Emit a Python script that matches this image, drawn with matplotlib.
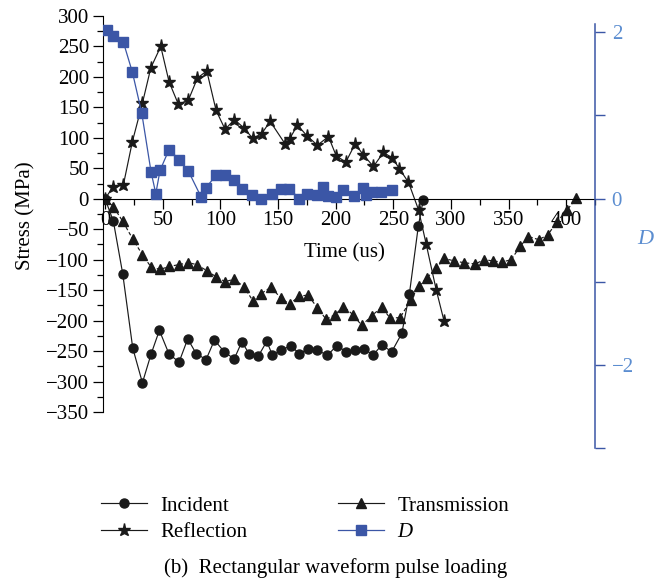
import matplotlib
matplotlib.use("Agg")
import matplotlib.pyplot as plt
from matplotlib.ticker import MultipleLocator, FixedLocator

plt.rcParams["font.family"] = ["Liberation Serif", "DejaVu Serif"]
plt.rcParams["font.size"] = 15

# --------------------------------------------------
# Data (time in us)
# --------------------------------------------------
inc_t = [0, 7.2, 15.3, 24, 32.4, 39.9, 47.1, 55.5, 64.2, 71.7,
         79, 87.6, 94.9, 103.3, 112, 118.6, 124.9, 133, 140.3, 145.2,
         152.4, 161.1, 168.3, 176, 183.7, 192.9, 201, 209.1, 216.9, 225,
         232.3, 240, 248.7, 257.4, 264, 271.8, 276]
inc_s = [0, -37, -123, -245, -302, -255, -216, -255, -268, -230,
         -254, -264, -232, -251, -263, -235, -254, -258, -234, -257,
         -249, -241, -254, -247, -248, -257, -241, -251, -249, -246,
         -257, -240, -251, -221, -156, -44, -2]

ref_t = [0, 6.7, 15.9, 23.7, 32.4, 39.7, 48.3, 55.5, 63.6, 72.3,
         80.1, 88.2, 96.3, 104.1, 112.2, 120.6, 128.1, 135.9, 143.2, 156.2,
         160, 166.9, 175.3, 184.2, 193.8, 200.4, 208.8, 216.9, 224.1, 232.8,
         241.5, 249.3, 255.4, 263.2, 271.9, 278.5, 287.2, 294.1]
ref_s = [0, 19, 23, 94, 157, 215, 250, 192, 155, 162,
         198, 210, 145, 114, 130, 116, 99, 107, 127, 90,
         98, 121, 103, 88, 102, 71, 60, 90, 72, 53,
         76, 67, 49, 27, -18, -74, -149, -201]

tra_t = [0, 7.2, 15.3, 24, 32.4, 39.9, 47.7, 55.8, 64.5, 72.3,
         79.5, 88.2, 96.3, 104.1, 112.2, 120.6, 128.1, 135.1, 144, 152.4,
         160, 168.3, 176, 184.2, 191.8, 199.6, 206.8, 214.9, 222.7, 231.3,
         240, 247.3, 256, 265.2, 271.9, 279.1, 287.2, 294.4, 302.8, 311.5,
         321, 328.9, 336.4, 344.1, 352.3, 360.1, 367.3, 376, 383.8, 391.9,
         400.6, 408.7]
tra_s = [0, -13, -37, -66, -92, -112, -116, -111, -108, -105,
         -108, -118, -128, -136, -132, -145, -167, -156, -145, -163,
         -173, -160, -158, -179, -198, -190, -177, -190, -208, -192,
         -178, -196, -195, -166, -144, -130, -114, -98, -102, -105,
         -107, -100, -102, -104, -100, -78, -62, -67, -60, -38,
         -19, 1]

d_t = [1.5, 7.2, 15.9, 23.7, 31.8, 39.9, 44, 47.7, 55.5, 64.2,
       72.3, 83.3, 87.4, 96.3, 104, 112, 119, 127.8, 135, 144.6,
       152.4, 159.6, 168.6, 175, 183.6, 189.4, 193, 200.4, 206.8, 216,
       224, 226.2, 231.3, 239, 248.7]
d_v = [2.03, 1.95, 1.88, 1.52, 1.03, 0.32, 0.06, 0.34, 0.59, 0.47,
       0.33, 0.02, 0.13, 0.28, 0.28, 0.22, 0.11, 0.04, 0.0, 0.05,
       0.11, 0.12, 0.0, 0.06, 0.04, 0.14, 0.03, 0.02, 0.1, 0.03,
       0.13, 0.04, 0.08, 0.08, 0.1]

x_ticks = [0, 50, 100, 150, 200, 250, 300, 350, 400]
y_ticks = list(range(-350, 301, 50))
d_ticks = [-2, 0, 2]

BLACK = "#1a1a1a"
BLUE = "#3b56a6"
BLUE_TXT = "#5b8dd0"


def main():
    W, H = 654, 581
    fig = plt.figure(figsize=(W / 100, H / 100), dpi=100)

    # --------------------------------------------------
    # Stress axis (left)
    # --------------------------------------------------
    ax = fig.add_axes([103 / W, 1 - 412 / H, 492 / W, 396 / H])
    ax.set_xlim(-1.8, 425)
    ax.set_ylim(-350, 300)

    ax.plot(inc_t, inc_s, color=BLACK, lw=0.85, marker="o", ms=6.5,
            label="Incident")
    ax.plot(tra_t, tra_s, color=BLACK, lw=0.85, ls=(0, (3, 2)), marker="^",
            ms=7.5, label="Transmission")
    ax.plot(ref_t, ref_s, color=BLACK, lw=0.85, marker="*", ms=9.5,
            label="Reflection")

    for s in ["top", "right"]:
        ax.spines[s].set_visible(False)
    ax.spines["bottom"].set_position(("data", 0))
    ax.spines["left"].set_bounds(-350, 300)

    ax.set_xticks(x_ticks)
    ax.xaxis.set_minor_locator(MultipleLocator(25))
    ax.set_yticks(y_ticks)
    ax.yaxis.set_minor_locator(MultipleLocator(25))
    ax.set_yticklabels(["\u2212" + str(-v) if v < 0 else str(v) for v in y_ticks])
    ax.tick_params(axis="both", which="major", direction="out", length=7,
                   width=0.9, labelsize=15)
    ax.tick_params(axis="both", which="minor", direction="out", length=4,
                   width=0.9)
    ax.tick_params(axis="x", pad=2)
    ax.tick_params(axis="y", pad=3)

    ax.set_xlabel("Time (us)", fontsize=15)
    ax.xaxis.set_label_coords(0.49, 0.425)
    ax.set_ylabel("Stress (MPa)", fontsize=15)
    ax.yaxis.set_label_coords(-0.137, 0.495)

    # --------------------------------------------------
    # D axis (right, its own vertical extent)
    # --------------------------------------------------
    ax2 = fig.add_axes([103 / W, 1 - 448 / H, 492 / W, 424 / H])
    ax2.patch.set_visible(False)
    ax2.set_xlim(-1.8, 425)
    ax2.set_ylim(-3, 2.1)
    ax2.plot(d_t, d_v, color=BLUE, lw=0.9, marker="s", ms=6.5, label="D")
    for s in ["top", "left", "bottom"]:
        ax2.spines[s].set_visible(False)
    ax2.spines["right"].set_color(BLUE)
    ax2.spines["right"].set_linewidth(1.1)
    ax2.xaxis.set_visible(False)
    ax2.yaxis.tick_right()
    ax2.set_yticks(d_ticks)
    ax2.set_yticklabels(["\u22122", "0", "2"])
    ax2.yaxis.set_minor_locator(FixedLocator([-3, -1, 1]))
    ax2.tick_params(axis="y", which="both", direction="out", length=7,
                    width=1.0, color=BLUE, labelcolor=BLUE_TXT, labelsize=15,
                    pad=5)
    ax2.set_ylabel("D", rotation=0, color=BLUE_TXT, fontsize=16,
                   fontstyle="italic", ha="left", va="center")
    ax2.yaxis.set_label_position("right")
    ax2.yaxis.set_label_coords(1.085, 0.514)

    # --------------------------------------------------
    # Legend and caption below
    # --------------------------------------------------
    h1, l1 = ax.get_legend_handles_labels()
    h2, l2 = ax2.get_legend_handles_labels()
    handles = [h1[0], h1[2], h1[1], h2[0]]
    labels = [l1[0], l1[2], l1[1], l2[0]]
    leg = fig.legend(handles, labels, ncol=2, frameon=False,
                     loc="upper left", bbox_to_anchor=(101 / W, 1 - 496 / H),
                     borderpad=0, borderaxespad=0, handlelength=2.2,
                     handletextpad=0.65, columnspacing=4.35, labelspacing=0.33,
                     fontsize=15)
    for h in leg.legend_handles:
        h.set_linestyle("-")
    leg.get_texts()[3].set_fontstyle("italic")

    fig.text(336 / W, 1 - 568 / H, "(b)  Rectangular waveform pulse loading",
             ha="center", va="center", fontsize=15)

    fig.savefig("out.png", dpi=100)


if __name__ == "__main__":
    main()
